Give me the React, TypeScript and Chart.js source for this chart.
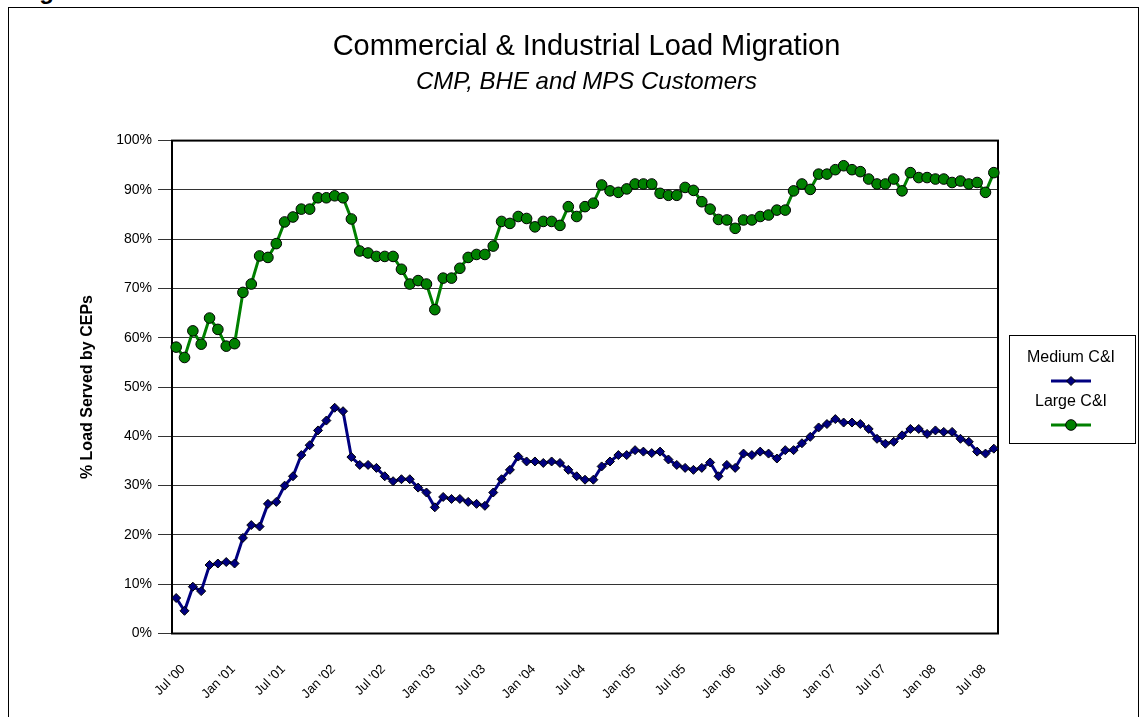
import React, { useEffect, useRef } from 'react';
import { Chart, registerables } from 'chart.js';
import { drawPoint } from 'chart.js/helpers';

Chart.register(...registerables);

const CATEGORIES = [
  "Jul '00", "Aug '00", "Sep '00", "Oct '00", "Nov '00", "Dec '00",
  "Jan '01", "Feb '01", "Mar '01", "Apr '01", "May '01", "Jun '01", "Jul '01", "Aug '01", "Sep '01", "Oct '01", "Nov '01", "Dec '01",
  "Jan '02", "Feb '02", "Mar '02", "Apr '02", "May '02", "Jun '02", "Jul '02", "Aug '02", "Sep '02", "Oct '02", "Nov '02", "Dec '02",
  "Jan '03", "Feb '03", "Mar '03", "Apr '03", "May '03", "Jun '03", "Jul '03", "Aug '03", "Sep '03", "Oct '03", "Nov '03", "Dec '03",
  "Jan '04", "Feb '04", "Mar '04", "Apr '04", "May '04", "Jun '04", "Jul '04", "Aug '04", "Sep '04", "Oct '04", "Nov '04", "Dec '04",
  "Jan '05", "Feb '05", "Mar '05", "Apr '05", "May '05", "Jun '05", "Jul '05", "Aug '05", "Sep '05", "Oct '05", "Nov '05", "Dec '05",
  "Jan '06", "Feb '06", "Mar '06", "Apr '06", "May '06", "Jun '06", "Jul '06", "Aug '06", "Sep '06", "Oct '06", "Nov '06", "Dec '06",
  "Jan '07", "Feb '07", "Mar '07", "Apr '07", "May '07", "Jun '07", "Jul '07", "Aug '07", "Sep '07", "Oct '07", "Nov '07", "Dec '07",
  "Jan '08", "Feb '08", "Mar '08", "Apr '08", "May '08", "Jun '08", "Jul '08", "Aug '08", "Sep '08",
];

const TICK_LABELS = [
  "Jul '00", "Jan '01", "Jul '01", "Jan '02", "Jul '02", "Jan '03", "Jul '03", "Jan '04", "Jul '04",
  "Jan '05", "Jul '05", "Jan '06", "Jul '06", "Jan '07", "Jul '07", "Jan '08", "Jul '08",
];

const MEDIUM_CI = [
  7.2, 4.6, 9.5, 8.6, 13.9, 14.2, 14.5, 14.2, 19.4, 22.0,
  21.7, 26.3, 26.7, 30.0, 31.9, 36.2, 38.2, 41.2, 43.2, 45.8,
  45.1, 35.8, 34.2, 34.2, 33.6, 31.9, 30.9, 31.3, 31.3, 29.6,
  28.6, 25.6, 27.7, 27.3, 27.3, 26.7, 26.3, 25.9, 28.6, 31.3,
  33.2, 35.9, 34.9, 34.9, 34.6, 34.9, 34.6, 33.2, 31.9, 31.2,
  31.2, 33.9, 34.9, 36.2, 36.2, 37.2, 36.9, 36.6, 36.9, 35.3,
  34.2, 33.6, 33.2, 33.6, 34.7, 31.9, 34.2, 33.6, 36.5, 36.2,
  36.9, 36.5, 35.5, 37.2, 37.2, 38.6, 39.9, 41.8, 42.5, 43.5,
  42.8, 42.8, 42.5, 41.5, 39.5, 38.5, 38.9, 40.2, 41.5, 41.5,
  40.5, 41.2, 40.9, 40.9, 39.5, 38.9, 36.9, 36.5, 37.5,
];

const LARGE_CI = [
  58.1, 56.0, 61.4, 58.7, 64.0, 61.7, 58.3, 58.8, 69.2, 70.9,
  76.6, 76.3, 79.1, 83.5, 84.5, 86.1, 86.1, 88.4, 88.4, 88.8,
  88.4, 84.1, 77.6, 77.2, 76.5, 76.5, 76.5, 73.9, 70.9, 71.6,
  70.9, 65.7, 72.1, 72.1, 74.1, 76.3, 76.9, 76.9, 78.6, 83.6,
  83.2, 84.6, 84.2, 82.5, 83.6, 83.6, 82.8, 86.6, 84.6, 86.6,
  87.3, 91.0, 89.8, 89.5, 90.2, 91.2, 91.2, 91.2, 89.3, 88.9,
  88.9, 90.5, 89.9, 87.6, 86.1, 84.0, 83.9, 82.2, 83.9, 83.9,
  84.6, 84.9, 85.9, 85.9, 89.8, 91.2, 90.1, 93.2, 93.2, 94.1,
  94.9, 94.1, 93.7, 92.2, 91.2, 91.2, 92.2, 89.8, 93.5, 92.5,
  92.5, 92.2, 92.2, 91.5, 91.8, 91.2, 91.5, 89.5, 93.5,
];

const SERIES_LABELS = ['Medium C&I', 'Large C&I'];

const FONT = "Arial, 'Liberation Sans', Helvetica, sans-serif";
const W = 1143;
const H = 717;

const plotFrame = {
  id: 'plotFrame',
  beforeDatasetsDraw(chart: any) {
    const { ctx, chartArea } = chart;
    ctx.save();
    ctx.strokeStyle = '#000';
    ctx.lineWidth = 2;
    ctx.strokeRect(chartArea.left, chartArea.top, chartArea.right - chartArea.left, chartArea.bottom - chartArea.top);
    ctx.restore();
  },
};

const boxLegend = {
  id: 'boxLegend',
  afterDraw(chart: any) {
    const { ctx } = chart;
    const x0 = 1009.5;
    const y0 = 335.5;
    const bw = 126;
    const bh = 108;
    const cx = 1071;
    ctx.save();
    ctx.fillStyle = '#fff';
    ctx.fillRect(x0, y0, bw, bh);
    ctx.strokeStyle = '#000';
    ctx.lineWidth = 1;
    ctx.strokeRect(x0, y0, bw, bh);
    chart.data.datasets.forEach((ds: any, i: number) => {
      const ty = 358 + i * 44;
      ctx.font = `16px ${FONT}`;
      ctx.fillStyle = '#000';
      ctx.textAlign = 'center';
      ctx.textBaseline = 'middle';
      ctx.fillText(ds.label, cx, ty);
      const sy = ty + 23;
      ctx.strokeStyle = ds.borderColor;
      ctx.lineWidth = ds.borderWidth;
      ctx.beginPath();
      ctx.moveTo(cx - 20, sy);
      ctx.lineTo(cx + 20, sy);
      ctx.stroke();
      ctx.fillStyle = ds.pointBackgroundColor;
      ctx.strokeStyle = ds.pointBorderColor;
      ctx.lineWidth = ds.pointBorderWidth;
      drawPoint(ctx, { pointStyle: ds.pointStyle, radius: ds.pointRadius, borderWidth: ds.pointBorderWidth, rotation: 0 } as any, cx, sy);
    });
    ctx.restore();
  },
};

export default function App() {
  const canvasRef = useRef<HTMLCanvasElement | null>(null);

  useEffect(() => {
    const canvas = canvasRef.current;
    if (!canvas) return;
    const chart = new Chart(canvas, {
      type: 'line',
      data: {
        labels: CATEGORIES,
        datasets: [
          {
            label: SERIES_LABELS[0],
            data: MEDIUM_CI,
            borderColor: '#000080',
            backgroundColor: '#000080',
            borderWidth: 3,
            pointStyle: 'rectRot',
            pointRadius: 4.5,
            pointBackgroundColor: '#000080',
            pointBorderColor: '#000000',
            pointBorderWidth: 1,
            tension: 0,
            fill: false,
          },
          {
            label: SERIES_LABELS[1],
            data: LARGE_CI,
            borderColor: '#008000',
            backgroundColor: '#008000',
            borderWidth: 3,
            pointStyle: 'circle',
            pointRadius: 5.3,
            pointBackgroundColor: '#008000',
            pointBorderColor: '#000000',
            pointBorderWidth: 1,
            tension: 0,
            fill: false,
          },
        ],
      },
      options: {
        responsive: false,
        animation: false,
        devicePixelRatio: 1,
        layout: { padding: { left: 30, right: 0, top: 0, bottom: 0 } },
        plugins: {
          legend: { display: false },
          tooltip: { enabled: false },
          title: {
            display: true,
            text: 'Commercial & Industrial Load Migration',
            color: '#000',
            font: { family: FONT, size: 29, weight: 'normal' as any },
            padding: { top: 30, bottom: 0 },
          },
          subtitle: {
            display: true,
            text: 'CMP, BHE and MPS Customers',
            color: '#000',
            font: { family: FONT, size: 24, style: 'italic', weight: 'normal' as any },
            padding: { top: 3, bottom: 44 },
          },
        },
        scales: {
          x: {
            type: 'category',
            offset: true,
            grid: { display: false, drawTicks: false },
            border: { display: false },
            ticks: {
              autoSkip: false,
              minRotation: 45,
              maxRotation: 45,
              padding: 28,
              labelOffset: 7,
              color: '#000',
              font: { family: FONT, size: 13 },
              callback: (_v: any, i: number) => (TICK_LABELS.includes(CATEGORIES[i]) ? CATEGORIES[i] : ''),
            },
            afterFit: (s: any) => {
              s.height = 83.5;
            },
          },
          y: {
            position: 'left',
            min: 0,
            max: 100,
            border: { display: false },
            grid: { color: '#333333', lineWidth: 1, tickLength: 14, drawTicks: true },
            ticks: {
              stepSize: 10,
              padding: 6,
              color: '#000',
              font: { family: FONT, size: 14 },
              callback: (v: any) => `${v}%`,
            },
            title: {
              display: true,
              text: '% Load Served by CEPs',
              color: '#000',
              font: { family: FONT, size: 16, weight: 'bold' as any },
              padding: { top: 48, bottom: 0 },
            },
            afterFit: (s: any) => {
              s.width = 142;
            },
          },
          yRight: {
            position: 'right',
            min: 0,
            max: 100,
            grid: { display: false, drawTicks: false },
            border: { display: false },
            ticks: { display: false },
            afterFit: (s: any) => {
              s.width = 145;
            },
          },
        },
      },
      plugins: [plotFrame, boxLegend],
    } as any);
    return () => chart.destroy();
  }, []);

  return (
    <div style={{ position: 'fixed', left: 0, top: 0, width: W, height: H, overflow: 'hidden', background: '#fff' }}>
      <div
        style={{
          position: 'absolute',
          left: 18,
          top: -21,
          fontFamily: FONT,
          fontWeight: 'bold',
          fontSize: 24,
          lineHeight: '24px',
          color: '#000',
          whiteSpace: 'nowrap',
        }}
      >
        Figure
      </div>
      <div
        style={{
          position: 'absolute',
          left: 8,
          top: 7,
          width: 1131,
          height: 760,
          border: '1px solid #000',
          boxSizing: 'border-box',
        }}
      />
      <canvas ref={canvasRef} width={W} height={H} style={{ position: 'absolute', left: 0, top: 0, width: W, height: H }} />
    </div>
  );
}
